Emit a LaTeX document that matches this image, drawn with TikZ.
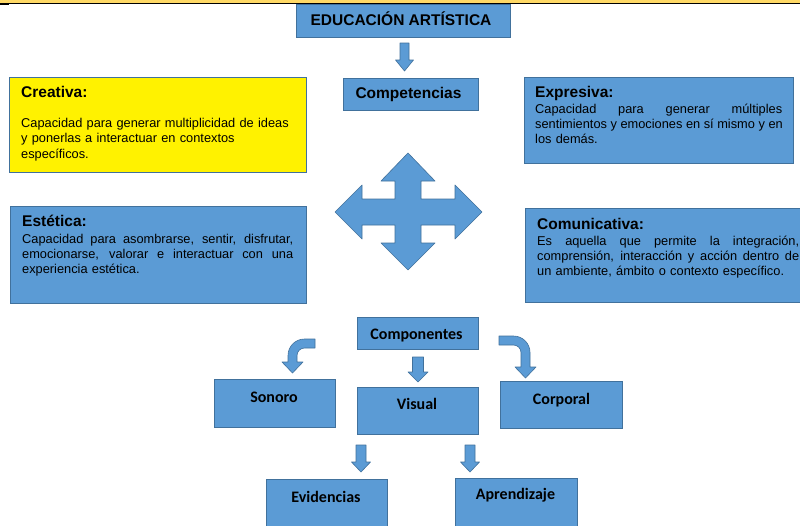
\documentclass[tikz,border=0pt]{standalone}
\usepackage{fontspec}
\setmainfont{Liberation Sans}
\newfontfamily\calfont{Carlito}
\definecolor{bfill}{RGB}{91,155,213}
\definecolor{bline}{RGB}{65,113,156}
\definecolor{topband}{RGB}{255,217,102}
\tikzset{
 bx/.style={draw=bline, fill=bfill, line width=0.8pt, inner sep=0pt, anchor=north west},
 ybx/.style={bx, fill=yellow},
 ttl/.style={anchor=base west, inner sep=0pt, font=\bfseries\fontsize{15.5}{18}\selectfont},
 bodytxt/.style={anchor=base west, inner sep=0pt, font=\fontsize{12.8}{15}\selectfont},
 blk/.style={draw=bline, fill=bfill, line width=0.6pt, line join=round},
 cal/.style={inner sep=0pt, anchor=base, font=\calfont\bfseries\fontsize{16}{19}\selectfont},
}
\newcommand\blkdown[6]{\filldraw[blk] (#1-#5,#2) -- (#1+#5,#2) -- (#1+#5,#3) -- (#1+#6,#3) -- (#1,#4) -- (#1-#6,#3) -- (#1-#5,#3) -- cycle;}
\newcommand\jline[1]{\leavevmode\hbox to \linewidth{\spaceskip=0.278em plus 1fil\relax #1}}
\begin{document}
\begin{tikzpicture}[x=1pt,y=-1pt]
\useasboundingbox (0,0) rectangle (800,525);
\clip (0,0) rectangle (800,525);
\fill[white] (0,0) rectangle (800,525);
% top band
\fill[topband] (0,0) rectangle (800,3.2);
\fill[black] (0,3.2) rectangle (800,4.1);
\fill[black] (0,4.1) rectangle (9,5.3);

% boxes
\node[bx, minimum width=214, minimum height=33] (edu) at (296,4) {};
\node[anchor=base, inner sep=0pt, font=\bfseries\fontsize{15.5}{18}\selectfont] (edut) at (401,25) {EDUCACIÓN ARTÍSTICA};

\node[bx, minimum width=135, minimum height=32] (comp) at (343,78) {};
\node[anchor=base, inner sep=0pt, font=\bfseries\fontsize{15.5}{18}\selectfont] (compt) at (408.5,98.5) {Competencias};

\node[ybx, minimum width=297, minimum height=95] (creativa) at (9,77) {};
\node[ttl] (creativat) at (21,97.5) {Creativa:};
\node[bodytxt, text width=285, font=\fontsize{12.8}{15.5}\selectfont] (creativab) at (21,127) {Capacidad para generar multiplicidad de ideas\\ y ponerlas a interactuar en contextos\\ específicos.};

\node[bx, minimum width=269, minimum height=86] (expresiva) at (524,77) {};
\node[ttl] (expresivat) at (535,97.5) {Expresiva:};
\node[bodytxt, text width=247] (expresivab) at (535,113.5) {\jline{Capacidad para generar múltiples}\\ \jline{sentimientos y emociones en sí mismo y en}\\ los demás.};

\node[bx, minimum width=296, minimum height=97] (estetica) at (10,206) {};
\node[ttl] (esteticat) at (22,226) {Estética:};
\node[bodytxt, text width=271] (esteticab) at (22,243) {\jline{Capacidad para asombrarse, sentir, disfrutar,}\\ \jline{emocionarse, valorar e interactuar con una}\\ experiencia estética.};

\node[bx, minimum width=296, minimum height=94] (comunicativa) at (525,208) {};
\node[ttl] (comunicativat) at (537,229) {Comunicativa:};
\node[bodytxt, text width=262] (comunicativab) at (537,245.5) {\jline{Es aquella que permite la integración,}\\ \jline{comprensión, interacción y acción dentro de}\\ un ambiente, ámbito o contexto específico.};

\node[bx, minimum width=121, minimum height=32] (componentes) at (357,317) {};
\node[cal] (componentest) at (416.5,339.5) {Componentes};

\node[bx, minimum width=121, minimum height=48] (sonoro) at (214,379) {};
\node[cal] (sonorot) at (274,402) {Sonoro};

\node[bx, minimum width=121, minimum height=47] (visual) at (357,387) {};
\node[cal] (visualt) at (417,409) {Visual};

\node[bx, minimum width=122, minimum height=47] (corporal) at (500,381) {};
\node[cal] (corporalt) at (561.5,404) {Corporal};

\node[bx, minimum width=121, minimum height=60] (evidencias) at (266,479) {};
\node[cal] (evidenciast) at (326,502) {Evidencias};

\node[bx, minimum width=122, minimum height=60] (aprendizaje) at (455,478) {};
\node[cal] (aprendizajet) at (515.5,499.5) {Aprendizaje};

% straight block arrows
\blkdown{404.5}{43}{60}{71}{4.5}{9}
\blkdown{418}{357}{372}{382}{5.5}{10}
\blkdown{361}{445}{462}{472}{5}{9.5}
\blkdown{470}{445}{462}{472}{5}{9.5}

% four-way arrow
\filldraw[blk] (408,153) -- (435,181) -- (421,181) -- (421,199) -- (455,199) -- (455,185) -- (482,212) -- (455,239) -- (455,225) -- (421,225) -- (421,243) -- (435,243) -- (408,270) -- (381,243) -- (395,243) -- (395,225) -- (362,225) -- (362,239) -- (335,212) -- (362,185) -- (362,199) -- (395,199) -- (395,181) -- (381,181) -- cycle;

% curved arrows
\filldraw[blk] (315,339) -- (304.5,339) .. controls (295.4,339) and (288,346.4) .. (288,355.5) -- (288,362) -- (282,362) -- (292.5,373) -- (303,362) -- (297,362) -- (297,355.5) .. controls (297,351.4) and (300.4,348) .. (304.5,348) -- (315,348) -- cycle;
\filldraw[blk] (499,336) -- (513.5,336) .. controls (522.6,336) and (530,343.4) .. (530,352.5) -- (530,367) -- (536,367) -- (525.5,378) -- (515,367) -- (521,367) -- (521,352.5) .. controls (521,348.4) and (517.6,345) .. (513.5,345) -- (499,345) -- cycle;
\end{tikzpicture}
\end{document}
